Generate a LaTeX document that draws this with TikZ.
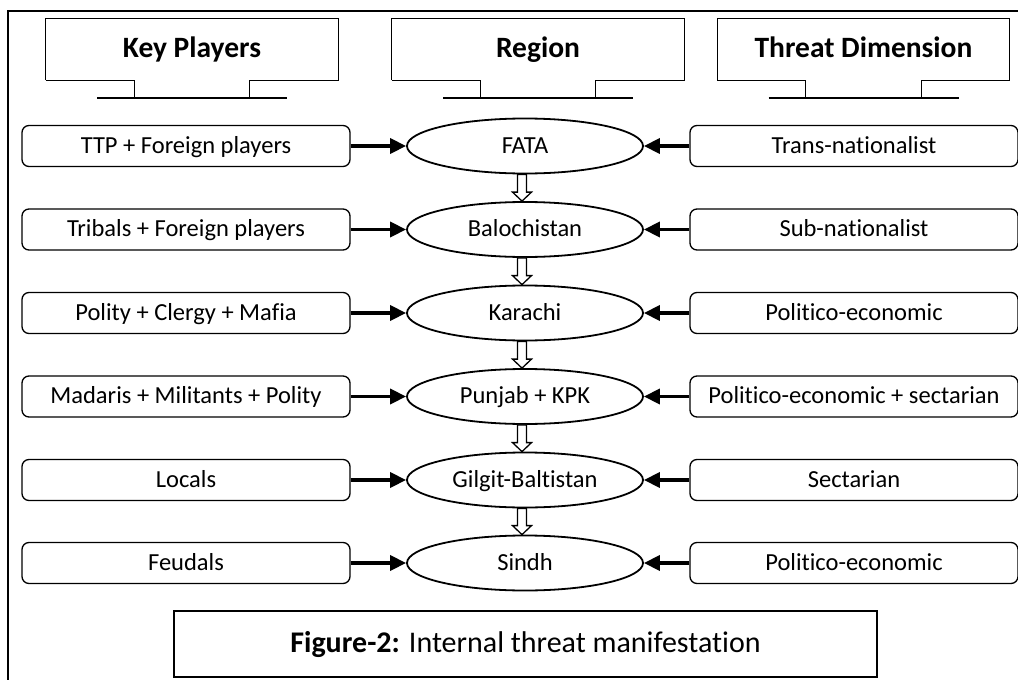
\documentclass[tikz,border=0pt]{standalone}
\usepackage{fontspec}
\setmainfont[Ligatures=NoCommon]{Carlito}
\usetikzlibrary{arrows.meta,shapes.geometric}

\begin{document}
\begin{tikzpicture}[x=1pt,y=-1pt,
  head/.style={minimum width=292,minimum height=61,inner sep=0pt,text height=20pt,text depth=4pt,font=\fontsize{29.5}{34}\selectfont\bfseries},
  player/.style={draw,rounded corners=7pt,line width=1.3pt,minimum width=328,minimum height=41,inner sep=0pt,text height=17pt,text depth=3pt,font=\fontsize{24.5}{29}\selectfont},
  region/.style={draw,ellipse,line width=1.8pt,minimum width=236,minimum height=55,inner sep=0pt,text height=17pt,text depth=3pt,font=\fontsize{24.5}{29}\selectfont},
  feed/.style={line width=3.6pt,-{Triangle[length=16pt,width=15pt]}},
  flow/.style={draw,line width=1.3pt,fill=white},
  caption/.style={draw,line width=1.3pt,minimum width=703,minimum height=66,inner sep=0pt,text height=20pt,text depth=4pt,font=\fontsize{30}{35}\selectfont}]

\useasboundingbox (0,0) rectangle (1018,680);

% frame
\draw[line width=1.5pt] (8,680) -- (8,11) -- (1018,11);

% column headers
\foreach \nm/\cx/\txt in {hkey/192/Key Players,hreg/538/Region,hthr/863.5/Threat Dimension}{
  \node[head] (\nm) at (\cx,49.5) {\txt};
  \draw[line width=1.3pt] (\nm.south west) -- (\nm.north west) -- (\nm.north east) -- (\nm.south east)
    -- ++(-88.5,0) -- ++(0,18) (\nm.south west) -- ++(88.5,0) -- ++(0,18);
  \draw[line width=1.8pt] ([xshift=-95pt,yshift=-18pt]\nm.south) -- ([xshift=95pt,yshift=-18pt]\nm.south);
}

% key players
\node[player] (p1) at (186,146) {TTP + Foreign players};
\node[player] (p2) at (186,229.5) {Tribals + Foreign players};
\node[player] (p3) at (186,313) {Polity + Clergy + Mafia};
\node[player] (p4) at (186,396.5) {Madaris + Militants + Polity};
\node[player] (p5) at (186,480) {Locals};
\node[player] (p6) at (186,563) {Feudals};

% regions
\node[region] (r1) at (525,146) {FATA};
\node[region] (r2) at (525,229.5) {Balochistan};
\node[region] (r3) at (525,313) {Karachi};
\node[region] (r4) at (525,396.5) {Punjab + KPK};
\node[region] (r5) at (525,480) {Gilgit-Baltistan};
\node[region] (r6) at (525,563) {Sindh};

% threat dimensions
\node[player] (t1) at (854,146) {Trans-nationalist};
\node[player] (t2) at (854,229.5) {Sub-nationalist};
\node[player] (t3) at (854,313) {Politico-economic};
\node[player] (t4) at (854,396.5) {Politico-economic + sectarian};
\node[player] (t5) at (854,480) {Sectarian};
\node[player] (t6) at (854,563) {Politico-economic};

\foreach \i in {1,...,6}{
  \draw[feed] (p\i) -- (r\i);
  \draw[feed] (t\i) -- (r\i);
}

% hollow arrows down the regions
\foreach \i/\j in {1/2,2/3,3/4,4/5,5/6}{
  \draw[flow] ([xshift=-7.5pt]r\i.south) -- ([xshift=-7.5pt,yshift=9pt]r\j.north)
    -- ([xshift=-12.5pt,yshift=9pt]r\j.north) -- ([xshift=-3pt]r\j.north)
    -- ([xshift=6.5pt,yshift=9pt]r\j.north) -- ([xshift=1.5pt,yshift=9pt]r\j.north)
    -- ([xshift=1.5pt]r\i.south) -- cycle;
}

\node[caption] (cap) at (525.5,644) {\textbf{Figure-2:} Internal threat manifestation};
\end{tikzpicture}
\end{document}
